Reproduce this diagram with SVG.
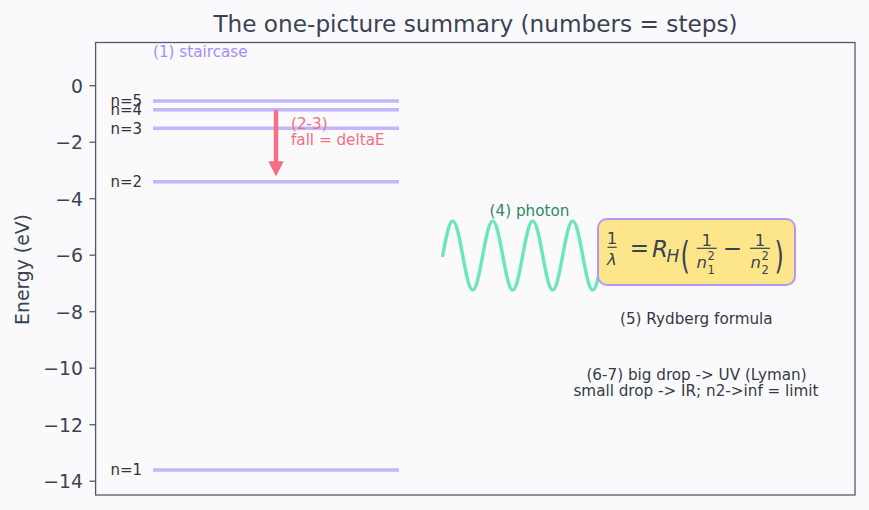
<svg xmlns="http://www.w3.org/2000/svg" width="869" height="510" viewBox="0 0 869 510">
<style>
text{font-family:"DejaVu Sans","Liberation Sans",sans-serif;}
.tick{font-size:18.8px;fill:#3b4252;text-anchor:end;}
.lvl{stroke:#c4b5fd;stroke-width:3.5;fill:none;}
.nlab{font-size:15px;fill:#333333;text-anchor:end;}
.ann{font-size:15.2px;}
.m{fill:#3b4252;}
.it{font-style:italic;}
.bar{stroke:#3b4252;stroke-width:1.2;}
</style>
<rect x="0" y="0" width="869" height="510" fill="#fafafd"/>
<g id="axes">
<rect x="95.6" y="42.5" width="759.4" height="452.5" fill="#fafafd" stroke="#555b66" stroke-width="1.3"/>
<g stroke="#555b66" stroke-width="1.3">
<line x1="89.5" y1="85.7" x2="95.6" y2="85.7"/>
<line x1="89.5" y1="142.2" x2="95.6" y2="142.2"/>
<line x1="89.5" y1="198.7" x2="95.6" y2="198.7"/>
<line x1="89.5" y1="255.2" x2="95.6" y2="255.2"/>
<line x1="89.5" y1="311.7" x2="95.6" y2="311.7"/>
<line x1="89.5" y1="368.2" x2="95.6" y2="368.2"/>
<line x1="89.5" y1="424.7" x2="95.6" y2="424.7"/>
<line x1="89.5" y1="481.2" x2="95.6" y2="481.2"/>
</g>
<text class="tick" x="83" y="92.7">0</text>
<text class="tick" x="83" y="149.2">−2</text>
<text class="tick" x="83" y="205.7">−4</text>
<text class="tick" x="83" y="262.2">−6</text>
<text class="tick" x="83" y="318.7">−8</text>
<text class="tick" x="83" y="375.2">−10</text>
<text class="tick" x="83" y="431.7">−12</text>
<text class="tick" x="83" y="488.2">−14</text>
<text transform="translate(29,269.5) rotate(-90)" font-size="18.8" fill="#3b4252" text-anchor="middle">Energy (eV)</text>
</g>
<text id="title" x="475.5" y="31.5" font-size="23.2" fill="#3b4252" text-anchor="middle">The one-picture summary (numbers = steps)</text>
<g id="levels">
<line class="lvl" x1="153" y1="469.9" x2="399" y2="469.9"/>
<line class="lvl" x1="153" y1="181.8" x2="399" y2="181.8"/>
<line class="lvl" x1="153" y1="128.3" x2="399" y2="128.3"/>
<line class="lvl" x1="153" y1="109.7" x2="399" y2="109.7"/>
<line class="lvl" x1="153" y1="101.0" x2="399" y2="101.0"/>
<text class="nlab" x="142" y="475.3">n=1</text>
<text class="nlab" x="142" y="187.2">n=2</text>
<text class="nlab" x="142" y="133.5">n=3</text>
<text class="nlab" x="142" y="115">n=4</text>
<text class="nlab" x="142" y="106.3">n=5</text>
<text class="ann" x="153" y="56.5" fill="#a78bfa">(1) staircase</text>
</g>
<g id="connectors">
<line x1="276" y1="112" x2="276" y2="164" stroke="#f2707f" stroke-width="4.5" stroke-linecap="round"/>
<polygon points="269.5,162 282.5,162 276,175" fill="#f2707f" stroke="#f2707f" stroke-width="1.5" stroke-linejoin="round"/>
</g>
<g id="fall-label">
<text class="ann" x="291" y="129" fill="#f2707f">(2-3)</text>
<text class="ann" x="291" y="145" fill="#f2707f">fall = deltaE</text>
</g>
<g id="photon">
<path d="M442.7,255.5 c3.343,-18.12 6.4,-34.5 10,-34.5 c3.6,0 6.657,16.38 10,34.5 c3.343,18.12 6.4,34.5 10,34.5 c3.6,0 6.657,-16.38 10,-34.5 c3.343,-18.12 6.4,-34.5 10,-34.5 c3.6,0 6.657,16.38 10,34.5 c3.343,18.12 6.4,34.5 10,34.5 c3.6,0 6.657,-16.38 10,-34.5 c3.343,-18.12 6.4,-34.5 10,-34.5 c3.6,0 6.657,16.38 10,34.5 c3.343,18.12 6.4,34.5 10,34.5 c3.6,0 6.657,-16.38 10,-34.5 c3.343,-18.12 6.4,-34.5 10,-34.5 c3.6,0 6.657,16.38 10,34.5 c3.343,18.12 6.4,34.5 10,34.5 c3.6,0 6.657,-16.38 10,-34.5" fill="none" stroke="#6ee7b7" stroke-width="3.5" stroke-linecap="round"/>
<text class="ann" x="529.5" y="215.5" fill="#2e8b62" text-anchor="middle">(4) photon</text>
</g>
<g id="formula">
<rect x="598" y="219" width="197" height="66" rx="9" fill="#fde68a" stroke="#b197fc" stroke-width="2"/>
<text class="m" x="612" y="243.8" font-size="16.5" text-anchor="middle">1</text>
<line class="bar" x1="607.5" y1="247.3" x2="616.8" y2="247.3"/>
<text class="m it" x="612" y="264.5" font-size="16.5" text-anchor="middle">λ</text>
<text class="m" x="639.5" y="255.5" font-size="23" text-anchor="middle">=</text>
<text class="m it" x="652" y="256.7" font-size="23">R</text>
<text class="m it" x="666.5" y="261.7" font-size="17">H</text>
<text class="m" transform="translate(680.5,268.3) scale(1,1.55)" font-size="24">(</text>
<text class="m" x="706.7" y="245.5" font-size="16.5" text-anchor="middle">1</text>
<line class="bar" x1="696.7" y1="248.3" x2="716.7" y2="248.3"/>
<text class="m it" x="696.5" y="268" font-size="16.5">n</text>
<text class="m" x="707.5" y="259.5" font-size="11.5">2</text>
<text class="m" x="707.5" y="273.5" font-size="11.5">1</text>
<text class="m" x="732.5" y="256.3" font-size="23" text-anchor="middle">−</text>
<text class="m" x="760" y="245.5" font-size="16.5" text-anchor="middle">1</text>
<line class="bar" x1="750" y1="248.3" x2="770" y2="248.3"/>
<text class="m it" x="750.5" y="268" font-size="16.5">n</text>
<text class="m" x="761.5" y="259.5" font-size="11.5">2</text>
<text class="m" x="761.5" y="273.5" font-size="11.5">2</text>
<text class="m" transform="translate(774.5,268.3) scale(1,1.55)" font-size="24">)</text>
</g>
<g id="notes">
<text class="ann" x="696.3" y="324" fill="#333a44" text-anchor="middle">(5) Rydberg formula</text>
<text class="ann" x="696.5" y="379.5" fill="#333a44" text-anchor="middle">(6-7) big drop -&gt; UV (Lyman)</text>
<text class="ann" x="696" y="395.5" fill="#333a44" text-anchor="middle">small drop -&gt; IR; n2-&gt;inf = limit</text>
</g>
</svg>
